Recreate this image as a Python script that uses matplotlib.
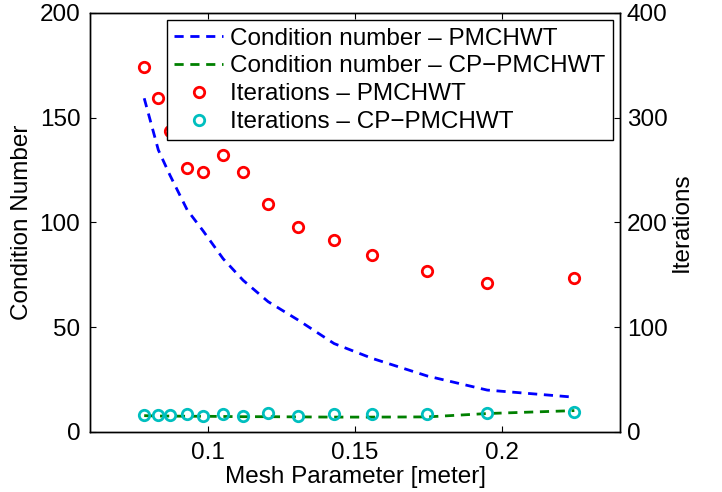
import matplotlib
matplotlib.use("Agg")
import matplotlib.pyplot as plt

plt.rcParams['font.family'] = ['Liberation Sans', 'DejaVu Sans']
plt.rcParams['font.size'] = 17.5

mesh = [0.0784, 0.0832, 0.0871, 0.0930, 0.0984, 0.1052, 0.1120,
        0.1205, 0.1306, 0.1429, 0.1559, 0.1746, 0.1949, 0.2245]
cond_pmchwt = [159.3, 134.6, 122.7, 106.0, 96.0, 82.7, 72.4,
               62.2, 53.5, 42.2, 35.1, 26.7, 20.0, 16.6]
cond_cp = [7.8, 7.6, 7.6, 7.5, 7.5, 7.4, 7.3,
           7.3, 7.2, 7.1, 7.1, 7.2, 8.8, 10.2]
iter_pmchwt = [348.7, 318.6, 287.6, 251.7, 248.5, 264.4, 248.5,
               217.7, 195.4, 183.3, 169.0, 153.7, 142.5, 146.7]
iter_cp = [16, 16, 16, 16.9, 15.6, 16.9, 15.6,
           18.1, 15.6, 16.9, 16.9, 16.9, 18.1, 18.8]

x_ticks = [0.1, 0.15, 0.2]
x_tick_labels = ['0.1', '0.15', '0.2']
left_ticks = [0, 50, 100, 150, 200]
right_ticks = [0, 100, 200, 300, 400]

fig = plt.figure(figsize=(7.22, 4.92), dpi=100)
ax1 = fig.add_axes([0.1247, 0.122, 0.734, 0.8516])
ax2 = ax1.twinx()

l1, = ax1.plot(mesh, cond_pmchwt, color='blue', lw=2.0, dashes=(3.3, 2.4),
               label='Condition number \u2013 PMCHWT')
l2, = ax1.plot(mesh, cond_cp, color=(0, 0.5, 0), lw=2.0, dashes=(3.3, 2.4),
               label='Condition number \u2013 CP\u2212PMCHWT')
p1, = ax2.plot(mesh, iter_pmchwt, 'o', mfc='none', mec='red', ms=7.5, mew=2.0,
               label='Iterations \u2013 PMCHWT')
p2, = ax2.plot(mesh, iter_cp, 'o', mfc='none', mec=(0, 0.75, 0.75), ms=7.5, mew=2.0,
               label='Iterations \u2013 CP\u2212PMCHWT')

ax1.set_xlim(0.06, 0.24)
ax1.set_ylim(0, 200)
ax2.set_ylim(0, 400)
ax1.set_xticks(x_ticks)
ax1.set_xticklabels(x_tick_labels)
ax1.set_yticks(left_ticks)
ax2.set_yticks(right_ticks)

ax1.tick_params(axis='both', direction='in', length=4, width=0.8, top=True, right=False, pad=7)
ax2.tick_params(axis='y', direction='in', length=4, width=0.8, pad=5)
for ax in (ax1, ax2):
    for s in ax.spines.values():
        s.set_linewidth(1.0)

ax1.set_xlabel('Mesh Parameter [meter]', labelpad=2)
ax1.set_ylabel('Condition Number', labelpad=5)
ax2.set_ylabel('Iterations', labelpad=2)

leg = ax2.legend(handles=[l1, l2, p1, p2], loc='upper right', fancybox=False,
                 edgecolor='black', framealpha=1, borderaxespad=0.3,
                 handlelength=2.0, handletextpad=0.3, labelspacing=0.24,
                 borderpad=0.3, fontsize=17.5)
leg.get_frame().set_linewidth(1.0)

fig.savefig('out.png', dpi=100)
